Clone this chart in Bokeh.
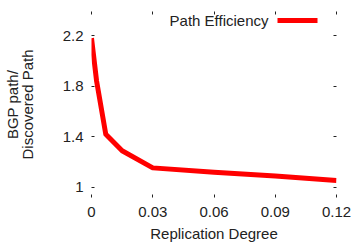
from bokeh.plotting import figure
from bokeh.models import FixedTicker, LinearAxis, Label, Arrow, Range1d
from bokeh.embed import file_html
from bokeh.resources import INLINE

replication = [0.0, 0.0025, 0.007, 0.015, 0.03, 0.06, 0.09, 0.12]
efficiency = [2.18, 1.84, 1.42, 1.29, 1.155, 1.12, 1.09, 1.055]
x_ticks = [0, 0.03, 0.06, 0.09, 0.12]
x_tick_labels = ["0", "0.03", "0.06", "0.09", "0.12"]
y_ticks = [1, 1.4, 1.8, 2.2]
y_tick_labels = ["1", "1.4", "1.8", "2.2"]

FONT = "Liberation Sans"
FS = "15px"

p = figure(width=355, height=244, output_backend="svg", toolbar_location=None,
           x_range=Range1d(0, 0.12), y_range=Range1d(0.921, 2.39),
           min_border_left=91, min_border_right=19, min_border_top=11, min_border_bottom=47)
p.outline_line_color = None
p.grid.visible = False
p.background_fill_color = "white"

p.line(replication, efficiency, line_color="#ff0000", line_width=5, line_join="round")

def style(ax):
    ax.axis_line_color = None
    ax.major_tick_in = 3
    ax.major_tick_out = 0
    ax.minor_tick_line_color = None
    ax.major_tick_line_color = "#222222"
    ax.major_label_text_font = FONT
    ax.major_label_text_font_size = FS
    ax.major_label_text_color = "#222222"
    ax.axis_label_text_font = FONT
    ax.axis_label_text_font_size = FS
    ax.axis_label_text_font_style = "normal"
    ax.axis_label_text_color = "#222222"

xa = p.xaxis[0]
xa.ticker = FixedTicker(ticks=x_ticks)
xa.major_label_overrides = {t: l for t, l in zip(x_ticks, x_tick_labels)}
xa.axis_label = "Replication Degree"
xa.major_label_standoff = 9
xa.axis_label_standoff = 5
style(xa)

ya = p.yaxis[0]
ya.ticker = FixedTicker(ticks=y_ticks)
ya.major_label_overrides = {t: l for t, l in zip(y_ticks, y_tick_labels)}
ya.axis_label = "BGP path/\nDiscovered Path"
ya.axis_label_text_line_height = 0.85
ya.major_label_standoff = 8
ya.axis_label_standoff = 24
style(ya)

top = LinearAxis(ticker=FixedTicker(ticks=x_ticks),
                 major_label_overrides={t: "" for t in x_ticks})
style(top)
p.add_layout(top, "above")
right = LinearAxis(ticker=FixedTicker(ticks=y_ticks),
                   major_label_overrides={t: "" for t in y_ticks})
style(right)
p.add_layout(right, "right")

p.add_layout(Label(x=177, y=177, x_units="screen", y_units="screen", text="Path Efficiency",
                   text_align="right", text_baseline="middle", text_font=FONT,
                   text_font_size="15px", text_color="#222222"))
p.add_layout(Arrow(x_start=186, y_start=177, x_end=226, y_end=177,
                   start_units="screen", end_units="screen", start=None, end=None,
                   line_color="#ff0000", line_width=5))

open("out.html", "w").write(file_html(p, INLINE))
